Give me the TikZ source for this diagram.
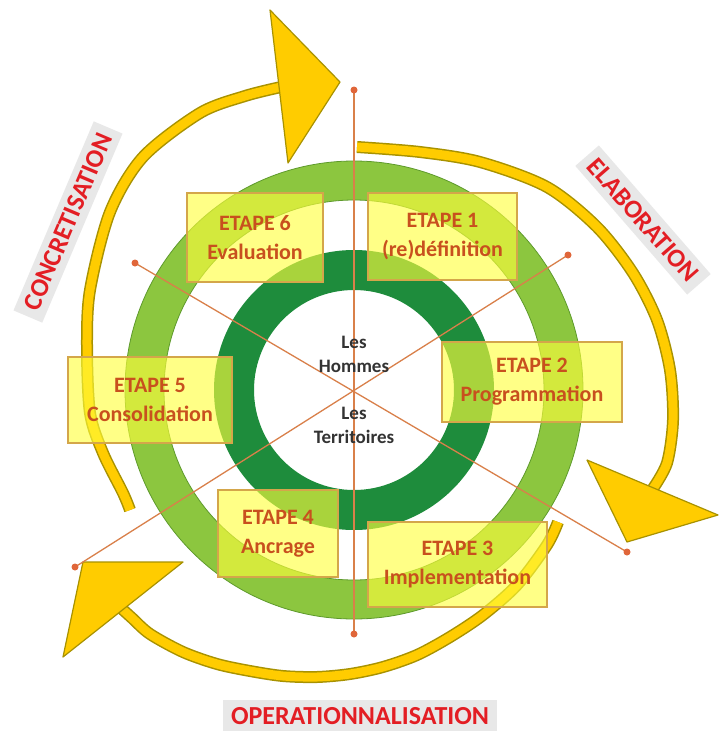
\documentclass[tikz,border=0pt]{standalone}
\usepackage{fontspec}
\setmainfont{Carlito}
\definecolor{lgreen}{HTML}{8CC63F}
\definecolor{lgreenedge}{HTML}{5E9A2C}
\definecolor{dgreen}{HTML}{1E8C3C}
\definecolor{arrowyellow}{HTML}{FFCC00}
\definecolor{arrowedge}{HTML}{A89200}
\definecolor{boxfill}{HTML}{FFFF3C}
\definecolor{boxedge}{HTML}{D4A64A}
\definecolor{boxtext}{HTML}{C8501E}
\definecolor{raycol}{HTML}{D9804A}
\definecolor{dotcol}{HTML}{E0663A}
\definecolor{labelred}{HTML}{E31E24}
\definecolor{centertext}{HTML}{333333}
\tikzset{
  bandout/.style={line width=12pt, draw=arrowedge, line cap=butt},
  bandin/.style={line width=9pt, draw=arrowyellow, line cap=butt},
  headtri/.style={fill=arrowyellow, draw=arrowedge, line width=1.2pt, line join=round},
  ray/.style={draw=raycol, line width=1.3pt},
  stepbox/.style={draw=boxedge, line width=1.3pt, fill=boxfill, fill opacity=0.62, text opacity=1,
    text=boxtext, font=\bfseries\fontsize{22}{29}\selectfont, align=center, inner sep=0pt},
  phase/.style={fill=black!9, text=labelred, font=\bfseries\fontsize{26}{30}\selectfont,
    inner xsep=8pt, inner ysep=7pt},
  core/.style={text=centertext, font=\bfseries\fontsize{19}{24}\selectfont, align=center}
}
\begin{document}
\begin{tikzpicture}[x=1pt,y=-1pt]
\useasboundingbox (0,0) rectangle (721,731);
\fill[white] (0,0) rectangle (721,731);
\coordinate (c) at (354,390);
% rings
\fill[lgreen, even odd rule] (c) circle[radius=229pt] (c) circle[radius=190pt];
\draw[lgreenedge, line width=0.8pt] (c) circle[radius=229pt] (c) circle[radius=190pt];
\fill[dgreen, even odd rule] (c) circle[radius=140pt] (c) circle[radius=100pt];
% arrows
\draw[bandout] plot[smooth] coordinates {(130,510) (123,493) (103,453) (90,413) (87,347) (90,290) (110,212) (143,157) (200,113) (245,96) (281,87)};
\draw[bandin] plot[smooth] coordinates {(130,510) (123,493) (103,453) (90,413) (87,347) (90,290) (110,212) (143,157) (200,113) (245,96) (281,87)};
\filldraw[headtri] (270,10) -- (340,82) -- (288,163) -- cycle;
\draw[bandout] plot[smooth] coordinates {(357,147) (420,152) (480,162) (547,187) (597,227) (633,273) (657,320) (670,370) (673,420) (667,463) (652,490)};
\draw[bandin] plot[smooth] coordinates {(357,147) (420,152) (480,162) (547,187) (597,227) (633,273) (657,320) (670,370) (673,420) (667,463) (652,490)};
\filldraw[headtri] (587,460) -- (718,515) -- (627,542) -- cycle;
\draw[bandout] plot[smooth] coordinates {(558,522) (547,545) (517,585) (483,615) (450,637) (417,655) (383,667) (350,674) (317,677) (283,676) (250,671) (217,664) (183,652) (150,634) (132,618) (121,608)};
\draw[bandin] plot[smooth] coordinates {(558,522) (547,545) (517,585) (483,615) (450,637) (417,655) (383,667) (350,674) (317,677) (283,676) (250,671) (217,664) (183,652) (150,634) (132,618) (121,608)};
\filldraw[headtri] (83,562) -- (183,562) -- (63,657) -- cycle;
% rays
\coordinate (rt) at (354,90);
\coordinate (rb) at (354,634);
\coordinate (rul) at (135,263);
\coordinate (rlr) at (627,552);
\coordinate (rur) at (568,255);
\coordinate (rll) at (75,567);
\draw[ray] (rt) -- (rb);
\draw[ray] (rul) -- (rlr);
\draw[ray] (rur) -- (rll);
\foreach \p in {rt,rb,rul,rlr,rur,rll} \fill[dotcol] (\p) circle[radius=3.5pt];
% step boxes
\node[stepbox, minimum width=136pt, minimum height=89pt] (e6) at (255,237.5) {ETAPE 6\\Evaluation};
\node[stepbox, minimum width=149pt, minimum height=87pt] (e1) at (442.5,236.5) {ETAPE 1\\(re)définition};
\node[stepbox, minimum width=180pt, minimum height=80pt] (e2) at (532,382) {ETAPE 2\\Programmation};
\node[stepbox, minimum width=164pt, minimum height=86pt] (e5) at (150,400) {ETAPE 5\\Consolidation};
\node[stepbox, minimum width=120pt, minimum height=87pt] (e4) at (278,533.5) {ETAPE 4\\Ancrage};
\node[stepbox, minimum width=179pt, minimum height=85pt] (e3) at (457.5,564.5) {ETAPE 3\\Implementation};
% center
\node[core] (hom) at (354,354) {Les\\Hommes};
\node[core] (ter) at (354,425.5) {Les\\Territoires};
% phase labels
\node[phase, rotate=67] (conc) at (68,222) {CONCRETISATION};
\node[phase, rotate=-49] (elab) at (643,220) {ELABORATION};
\node[phase] (oper) at (360,716) {OPERATIONNALISATION};
\end{tikzpicture}
\end{document}
